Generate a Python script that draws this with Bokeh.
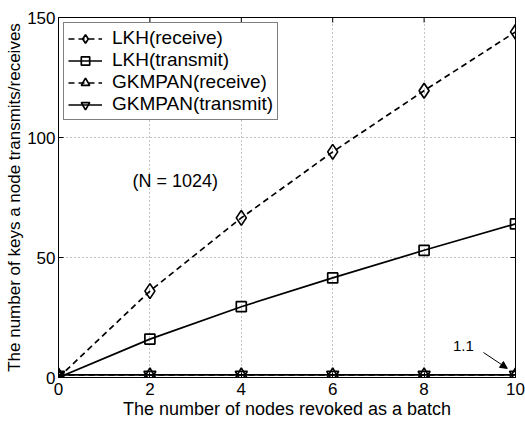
import math
from bokeh.plotting import figure
from bokeh.models import (Range1d, FixedTicker, Legend, LegendItem,
                          Label, Arrow, NormalHead)
from bokeh.embed import file_html
from bokeh.resources import INLINE

# ---- data ----
nodes_revoked = [0, 2, 4, 6, 8, 10]
lkh_receive = [0, 36, 66.5, 94, 119.5, 144]
lkh_transmit = [0, 16, 29.5, 41.5, 53, 64]
gkmpan_receive = [1.1, 1.1, 1.1, 1.1, 1.1, 1.1]
gkmpan_transmit = [1.1, 1.1, 1.1, 1.1, 1.1, 1.1]
x_ticks = [0, 2, 4, 6, 8, 10]
y_ticks = [0, 50, 100, 150]
series_names = ["LKH(receive)", "LKH(transmit)", "GKMPAN(receive)", "GKMPAN(transmit)"]

FONT = "Liberation Sans"
X_MAX = 10
Y_MAX = 150

p = figure(width=525, height=421, output_backend="svg", toolbar_location=None,
           x_range=Range1d(0, X_MAX), y_range=Range1d(0, Y_MAX),
           min_border_left=58, min_border_right=10, min_border_top=17, min_border_bottom=44)
p.background_fill_color = "white"
p.border_fill_color = "white"
p.outline_line_color = "black"
p.outline_line_width = 1

for ax in (p.xaxis[0], p.yaxis[0]):
    ax.major_tick_in = 5
    ax.major_tick_out = 0
    ax.minor_tick_in = 0
    ax.minor_tick_out = 0
    ax.axis_line_color = "black"
    ax.major_tick_line_color = "black"
    ax.major_label_text_font = FONT
    ax.major_label_text_color = "black"
    ax.major_label_text_font_size = "17px"
    ax.axis_label_text_font = FONT
    ax.axis_label_text_font_style = "normal"
    ax.axis_label_text_color = "black"

p.xaxis.major_label_standoff = 5
p.xaxis.axis_label_standoff = 1
p.yaxis.major_label_standoff = 3
p.yaxis.axis_label_standoff = 0

p.xaxis.ticker = FixedTicker(ticks=x_ticks)
p.yaxis.ticker = FixedTicker(ticks=y_ticks)
p.xaxis.axis_label = "The number of nodes revoked as a batch"
p.yaxis.axis_label = "The number of keys a node transmits/receives"
p.xaxis.axis_label_text_font_size = "18px"
p.yaxis.axis_label_text_font_size = "17px"

p.xgrid.ticker = FixedTicker(ticks=x_ticks)
p.ygrid.ticker = FixedTicker(ticks=y_ticks)
for g in (p.xgrid[0], p.ygrid[0]):
    g.grid_line_color = "#888888"
    g.grid_line_dash = "1 3"
    g.grid_line_width = 1

# inward tick marks on the top and right edges of the box (clipped to the frame)
p.scatter(x=x_ticks, y=[Y_MAX] * len(x_ticks), marker="dash", angle=math.pi / 2, size=10,
          line_color="black", line_width=1)
p.scatter(x=[X_MAX] * len(y_ticks), y=y_ticks, marker="dash", size=10,
          line_color="black", line_width=1)

LW = 1.7
DASH = "6 4"

r1l = p.line(nodes_revoked, lkh_receive, line_color="black", line_width=LW, line_dash=DASH)
r1m = p.scatter(nodes_revoked, lkh_receive, marker="diamond", size=15, line_color="black",
                line_width=LW, fill_alpha=0)
r2l = p.line(nodes_revoked, lkh_transmit, line_color="black", line_width=LW)
r2m = p.scatter(nodes_revoked, lkh_transmit, marker="square", size=10, line_color="black",
                line_width=LW, fill_alpha=0)
r3l = p.line(nodes_revoked, gkmpan_receive, line_color="black", line_width=LW, line_dash=DASH)
r3m = p.scatter(nodes_revoked, gkmpan_receive, marker="triangle", size=12, line_color="black",
                line_width=LW, fill_alpha=0)
r4l = p.line(nodes_revoked, gkmpan_transmit, line_color="black", line_width=LW)
r4m = p.scatter(nodes_revoked, gkmpan_transmit, marker="inverted_triangle", size=12,
                line_color="black", line_width=LW, fill_alpha=0)

legend = Legend(items=[
    LegendItem(label=series_names[0], renderers=[r1l, r1m]),
    LegendItem(label=series_names[1], renderers=[r2l, r2m]),
    LegendItem(label=series_names[2], renderers=[r3l, r3m]),
    LegendItem(label=series_names[3], renderers=[r4l, r4m]),
], location="top_left")
legend.margin = 5
legend.padding = 4
legend.spacing = 0
legend.glyph_width = 34
legend.glyph_height = 21
legend.label_height = 21
legend.label_standoff = 10
legend.label_text_font = FONT
legend.label_text_font_size = "19px"
legend.label_text_color = "black"
legend.border_line_color = "black"
legend.border_line_width = 1.5
legend.background_fill_color = "white"
legend.background_fill_alpha = 1
p.add_layout(legend)

p.add_layout(Label(x=1.62, y=82, text="(N = 1024)", text_font=FONT, text_font_size="18px",
                   text_color="black", text_baseline="middle", text_align="left"))
p.add_layout(Label(x=8.86, y=13.3, text="1.1", text_font=FONT, text_font_size="15px",
                   text_color="black", text_baseline="middle", text_align="center"))
p.add_layout(Arrow(x_start=9.3, y_start=10.4, x_end=9.82, y_end=3.8, line_color="black",
                   line_width=1, end=NormalHead(size=7, fill_color="black", line_color="black")))

open("out.html", "w").write(file_html(p, INLINE))
